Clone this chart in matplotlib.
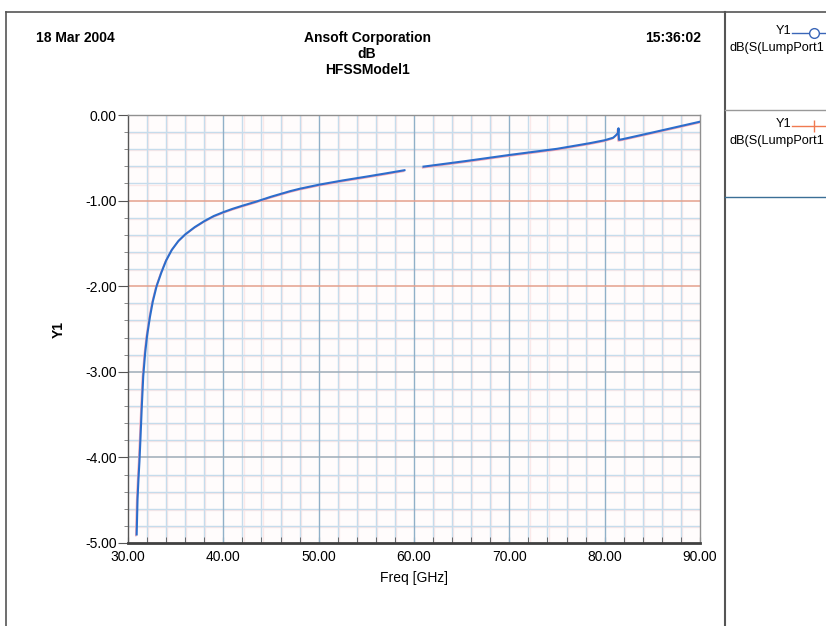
import matplotlib
matplotlib.use("Agg")
import matplotlib.pyplot as plt
import matplotlib.transforms as mtransforms
from matplotlib.lines import Line2D
import numpy as np

# ---- data ----
freq_a = [30.91, 31.0, 31.1, 31.2, 31.3, 31.45, 31.6, 31.8, 32.0, 32.3, 32.6,
          33.0, 33.5, 34.0, 34.6, 35.3, 36.0, 37.0, 38.0, 39.0, 40.0, 41.0,
          42.0, 43.5, 45.0, 47.0, 48.0, 50.0, 52.5, 55.0, 57.0, 59.0]
db_a = [-4.9, -4.49, -4.25, -4.05, -3.8, -3.4, -3.05, -2.78, -2.58, -2.36, -2.18,
        -2.0, -1.84, -1.70, -1.575, -1.47, -1.395, -1.31, -1.24, -1.18, -1.135, -1.095,
        -1.06, -1.01, -0.955, -0.89, -0.862, -0.815, -0.765, -0.72, -0.683, -0.645]
freq_b = [61.0, 65.5, 70.0, 75.0, 78.4, 80.0, 80.9, 81.2, 81.4, 81.45, 81.5,
          81.9, 85.0, 90.0]
db_b = [-0.603, -0.537, -0.467, -0.395, -0.33, -0.295, -0.265, -0.235, -0.21,
        -0.155, -0.29, -0.282, -0.205, -0.078]

x_ticks = [30, 40, 50, 60, 70, 80, 90]
y_ticks = [0, -1, -2, -3, -4, -5]
legend_label = "dB(S(LumpPort1"

W, H = 826, 626
fig = plt.figure(figsize=(W / 100, H / 100), dpi=100)
fig.patch.set_facecolor("white")

def fx(px):
    return px / W

def fy(py):
    return 1 - py / H

ax = fig.add_axes([fx(128), fy(543), fx(700) - fx(128), fy(115) - fy(543)])
ax.set_facecolor("#fffcfc")
ax.set_xlim(30, 90)
ax.set_ylim(-5, 0)

# grid
for v in np.arange(30, 90.01, 2):
    if abs(v % 10) < 1e-6:
        continue
    ax.axvline(v + 0.12, color="#fbe8e8", lw=1.0, zorder=0)
    ax.axvline(v, color="#c6dcec", lw=1.0, zorder=1)
for v in np.arange(-5, 0.01, 0.2):
    if abs(v - round(v)) < 1e-6:
        continue
    ax.axhline(v - 0.012, color="#fbe8e8", lw=1.0, zorder=0)
    ax.axhline(v, color="#c6dcec", lw=1.0, zorder=1)
for v in x_ticks[1:-1]:
    ax.axvline(v, color="#90b0c8", lw=1.0, zorder=2)
for v in y_ticks[1:-1]:
    c = "#e4a08c" if v > -2.5 else "#9eacb8"
    ax.axhline(v, color=c, lw=1.1, zorder=2)

# traces: pink trace slightly offset below the blue one
offs = mtransforms.offset_copy(ax.transData, fig=fig, x=-0.6, y=-0.8, units="points")
for fr, db in ((freq_a, db_a), (freq_b, db_b)):
    ax.plot(fr, db, color="#f4a6b4", lw=1.2, transform=offs, zorder=3)
    ax.plot(fr, db, color="#2c6dcc", lw=1.5, zorder=4, solid_joinstyle="round")

# spines / ticks
for s in ("top", "right"):
    ax.spines[s].set_color("#909090")
    ax.spines[s].set_linewidth(1.0)
ax.spines["left"].set_color("#555555")
ax.spines["left"].set_linewidth(1.0)
ax.spines["bottom"].set_color("#404040")
ax.spines["bottom"].set_linewidth(2.0)

tick_font = dict(family=["Liberation Sans", "DejaVu Sans"], size=10)
ax.set_xticks(x_ticks)
ax.set_xticklabels([f"{v:.2f}" for v in x_ticks], **tick_font)
ax.set_yticks(y_ticks)
ax.set_yticklabels([f"{v:.2f}" for v in y_ticks], **tick_font)
ax.set_xticks(np.arange(30, 90.01, 2), minor=True)
ax.set_yticks(np.arange(-5, 0.01, 0.2), minor=True)
ax.tick_params(axis="x", which="both", direction="in", length=4, color="#555555", pad=5)
ax.tick_params(axis="y", which="major", direction="out", length=7, color="#555555", pad=1)
ax.tick_params(axis="y", which="minor", direction="out", length=3, color="#777777")

ax.set_xlabel("Freq [GHz]", fontsize=10, family=["Liberation Sans", "DejaVu Sans"], labelpad=5)
ax.set_ylabel("Y1", fontsize=10, fontweight="bold", family=["Liberation Sans", "DejaVu Sans"], labelpad=14)

# header texts
hdr = dict(family=["Liberation Sans Narrow", "Liberation Sans", "DejaVu Sans"],
           fontweight="bold", fontsize=10, va="center")
fig.text(fx(36), fy(38), "18 Mar 2004", ha="left", **hdr)
fig.text(fx(367), fy(38), "Ansoft Corporation", ha="center", **hdr)
fig.text(fx(367), fy(54), "dB", ha="center", **hdr)
fig.text(fx(367), fy(70), "HFSSModel1", ha="center", **hdr)
fig.text(fx(701), fy(38), "15:36:02", ha="right", **hdr)

# frame lines
def fline(x0, y0, x1, y1, color="#555555", lw=1.2):
    fig.add_artist(Line2D([fx(x0), fx(x1)], [fy(y0), fy(y1)], color=color, lw=lw,
                          transform=fig.transFigure))

fline(6, 12, 826, 12)
fline(6, 12, 6, 626)
fline(725, 12, 725, 626, lw=1.5)
fline(725, 110, 826, 110, color="#999999", lw=1.0)
fline(725, 197, 826, 197, color="#3b6f96", lw=1.0)

# legend panel
lf = dict(family=["Liberation Sans", "DejaVu Sans"], fontsize=9.2, va="center")
fig.text(fx(791), fy(31), "Y1", ha="right", **lf)
fig.text(fx(729), fy(48), legend_label, ha="left", **lf)
fig.add_artist(Line2D([fx(792), fx(830)], [fy(33), fy(33)], color="#3a66b8", lw=1.0,
                      transform=fig.transFigure))
fig.add_artist(Line2D([fx(814)], [fy(33)], color="#3a66b8", marker="o", ms=7,
                      mfc="white", mec="#3a66b8", mew=1.0, transform=fig.transFigure))
fig.text(fx(791), fy(124), "Y1", ha="right", **lf)
fig.text(fx(729), fy(141), legend_label, ha="left", **lf)
fig.add_artist(Line2D([fx(792), fx(830)], [fy(126), fy(126)], color="#f07a50", lw=1.0,
                      transform=fig.transFigure))
fig.add_artist(Line2D([fx(814)], [fy(126)], color="#f07a50", marker="|", ms=9,
                      mew=1.0, transform=fig.transFigure))

fig.savefig("out.png", dpi=100)
